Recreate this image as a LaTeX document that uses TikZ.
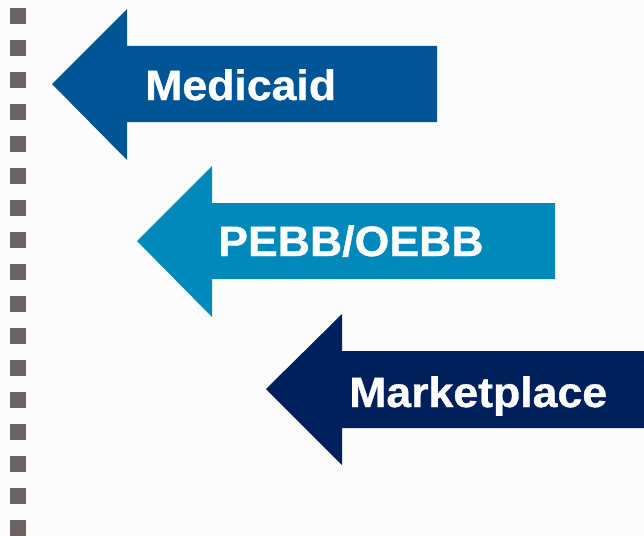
\documentclass[tikz,border=0pt]{standalone}
\usepackage{fontspec}
\setmainfont{Liberation Sans}
\newfontfamily\lblfont[FakeBold=0.8]{Liberation Sans Bold}
\definecolor{bgc}{HTML}{FCFCFC}
\definecolor{sqc}{HTML}{6D6262}
\definecolor{medc}{HTML}{005596}
\definecolor{pebc}{HTML}{0089BA}
\definecolor{mktc}{HTML}{00205B}
\tikzset{
  sq/.style={fill=sqc},
  lbl/.style={text=white, font=\lblfont\fontsize{42.5}{48}\selectfont, inner sep=0pt, anchor=base west, xscale=1.05}
}
\begin{document}
\begin{tikzpicture}[x=1pt,y=-1pt]
\fill[bgc] (0,0) rectangle (644,535);
\useasboundingbox (0,0) rectangle (644,535);
% squares
\foreach \i in {0,...,16}{
  \fill[sq] (10,{8+32*\i}) rectangle (26,{24+32*\i});
}
% Medicaid arrow
\fill[medc] (52,84) -- (127,9) -- (127,46) -- (437,46) -- (437,122) -- (127,122) -- (127,160) -- cycle;
\node[lbl] (med) at (145,100) {Medicaid};
% PEBB/OEBB arrow
\fill[pebc] (137,241) -- (212,166) -- (212,203) -- (555,203) -- (555,279) -- (212,279) -- (212,317) -- cycle;
\node[lbl] (peb) at (218,256) {PEBB/OEBB};
% Marketplace arrow
\fill[mktc] (266,389) -- (342,314) -- (342,351) -- (650,351) -- (650,428) -- (342,428) -- (342,465) -- cycle;
\node[lbl] (mkt) at (349,407) {Marketplace};
\end{tikzpicture}
\end{document}
